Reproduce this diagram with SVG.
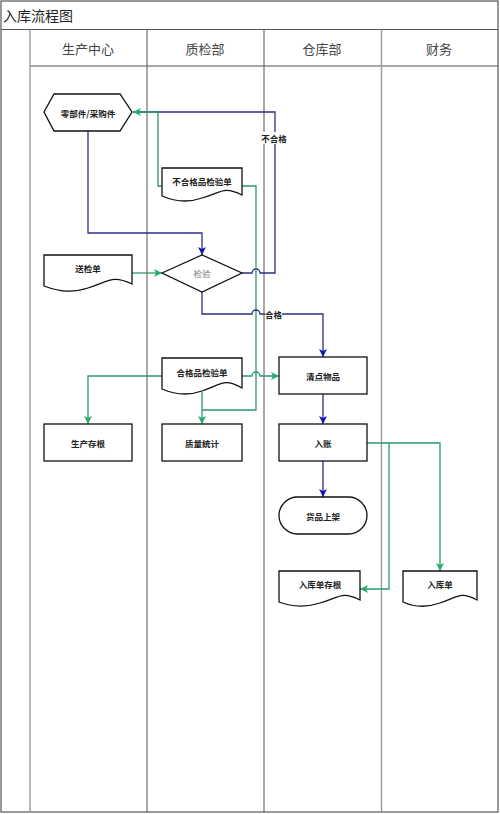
<svg xmlns="http://www.w3.org/2000/svg" width="500" height="814" viewBox="0 0 500 814">
<style>
.frame{fill:none;stroke:#555;stroke-width:1.2}
.col{stroke:#555;stroke-width:1}
.col2{stroke:#999;stroke-width:1.4}
.node{fill:#fff;stroke:#111;stroke-width:1.3}
.t{font-family:"Noto Sans CJK SC","Noto Sans",sans-serif;font-size:8.5px;font-weight:bold;fill:#222;text-anchor:middle;dominant-baseline:central}
.h{font-family:"Noto Sans CJK SC","Noto Sans",sans-serif;font-size:13px;fill:#444;text-anchor:middle;dominant-baseline:central}
.blue{fill:none;stroke:#2e2e8a;stroke-width:1.3}
.green{fill:none;stroke:#2a9a6a;stroke-width:1.3}
.lbl{font-family:"Noto Sans CJK SC","Noto Sans",sans-serif;font-size:8.5px;font-weight:bold;fill:#222;dominant-baseline:central}
</style>
<defs>
<marker id="ab" viewBox="0 0 10 10" refX="10" refY="5" markerWidth="9" markerHeight="8" markerUnits="userSpaceOnUse" orient="auto"><path d="M0,0 L10,5 L0,10 L2.5,5 z" fill="#1414b4"/></marker>
<marker id="ag" viewBox="0 0 10 10" refX="10" refY="5" markerWidth="9" markerHeight="8" markerUnits="userSpaceOnUse" orient="auto"><path d="M0,0 L10,5 L0,10 L2.5,5 z" fill="#22ad6e"/></marker>
</defs>
<rect width="500" height="814" fill="#fff"/>
<g id="swimlanes">
<rect class="frame" x="1" y="1" width="497" height="811"/>
<line class="col" x1="1" y1="29.5" x2="498" y2="29.5"/>
<line class="col" x1="30" y1="66" x2="498" y2="66"/>
<line class="col2" x1="30" y1="29.5" x2="30" y2="812"/>
<line class="col" x1="147" y1="29.5" x2="147" y2="812"/>
<line class="col" x1="264" y1="29.5" x2="264" y2="812"/>
<line class="col2" x1="381.5" y1="29.5" x2="381.5" y2="812"/>
<text class="h" x="3" y="15" style="text-anchor:start;font-size:14px;fill:#222">入库流程图</text>
<text class="h" x="88" y="48">生产中心</text>
<text class="h" x="205" y="48">质检部</text>
<text class="h" x="322" y="48">仓库部</text>
<text class="h" x="439" y="48">财务</text>
</g>
<g id="connectors">
<path class="blue" d="M88,131 V233 H202 V255" marker-end="url(#ab)"/>
<path class="green" d="M132,273 H162" marker-end="url(#ag)"/>
<path class="blue" d="M242,273 H252 a4,4 0 0 1 8,0 H275 V112 H133"/>
<path class="green" d="M162,186 H158 V112 H133" marker-end="url(#ag)"/>
<path class="green" d="M242,186 H256 V410 H202"/>
<path class="blue" d="M202,292 V314 H252 a4,4 0 0 1 8,0 H323 V357" marker-end="url(#ab)"/>
<path class="green" d="M162,376 H88 V424" marker-end="url(#ag)"/>
<path class="green" d="M242,376 H252 a4,4 0 0 1 8,0 H279" marker-end="url(#ag)"/>
<path class="green" d="M202,392 V424" marker-end="url(#ag)"/>
<path class="blue" d="M323,394 V424" marker-end="url(#ab)"/>
<path class="blue" d="M323,461 V497" marker-end="url(#ab)"/>
<path class="green" d="M367,443 H440 V571" marker-end="url(#ag)"/>
<path class="green" d="M389,443 V589 H360" marker-end="url(#ag)"/>
<rect x="262" y="132" width="25" height="12" fill="#fff"/>
<text class="lbl" x="274" y="138" text-anchor="middle">不合格</text>
<rect x="265" y="308" width="17" height="12" fill="#fff"/>
<text class="lbl" x="273.5" y="314" text-anchor="middle">合格</text>
</g>
<g id="n-parts">
<path class="node" d="M44,112 L54,94 H120 L132,112 L120,131 H54 Z"/>
<text class="t" x="88" y="112.5">零部件/采购件</text>
</g>
<g id="n-bad-doc">
<path class="node" d="M162,168 H242 V195 C224,186 222,192 202,198 C188,203 176,202 162,196 Z"/>
<text class="t" x="202" y="181">不合格品检验单</text>
</g>
<g id="n-send-doc">
<path class="node" d="M44,255 H132 V284 C112,275 110,281 88,288 C72,293 60,292 44,286 Z"/>
<text class="t" x="88" y="268">送检单</text>
</g>
<g id="n-check">
<path class="node" d="M162,273 L202,255 L242,273 L202,292 Z"/>
<text class="t" x="202" y="273" style="font-weight:normal;fill:#777">检验</text>
</g>
<g id="n-good-doc">
<path class="node" d="M162,358 H242 V388 C224,378 222,384 202,391 C188,396 176,395 162,389 Z"/>
<text class="t" x="202" y="372">合格品检验单</text>
</g>
<g id="n-count">
<rect class="node" x="279" y="357" width="88" height="37"/>
<text class="t" x="323" y="376">清点物品</text>
</g>
<g id="n-stub">
<rect class="node" x="44" y="424" width="88" height="37"/>
<text class="t" x="88" y="442.5">生产存根</text>
</g>
<g id="n-quality">
<rect class="node" x="162" y="424" width="80" height="37"/>
<text class="t" x="202" y="442.5">质量统计</text>
</g>
<g id="n-account">
<rect class="node" x="279" y="424" width="88" height="37"/>
<text class="t" x="323" y="442.5">入账</text>
</g>
<g id="n-shelf">
<rect class="node" x="279" y="497" width="88" height="37" rx="18.5" ry="18.5"/>
<text class="t" x="323" y="515.5">货品上架</text>
</g>
<g id="n-in-stub">
<path class="node" d="M279,571 H360 V600 C342,591 340,597 320,603 C304,608 292,607 279,602 Z"/>
<text class="t" x="320" y="584">入库单存根</text>
</g>
<g id="n-in-doc">
<path class="node" d="M403,571 H477 V600 C460,591 458,597 440,603 C426,608 414,607 403,602 Z"/>
<text class="t" x="440" y="584">入库单</text>
</g>
</svg>
